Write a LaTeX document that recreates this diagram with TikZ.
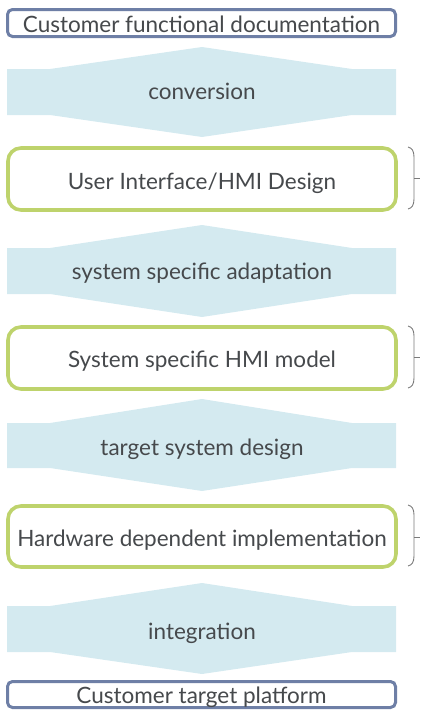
\documentclass[tikz,border=0pt]{standalone}
\usepackage{fontspec}
\setmainfont{Lato}
\definecolor{txt}{HTML}{46494C}
\definecolor{arrowfill}{HTML}{D4EAF0}
\definecolor{bluebd}{HTML}{6E7FA6}
\definecolor{greenbd}{HTML}{BED36C}
\definecolor{bracegray}{HTML}{7A7A7A}
\tikzset{
  lbl/.style={text=txt, font=\fontsize{22.5}{27}\selectfont, inner sep=0pt, anchor=base},
  bluebox/.style={draw=bluebd, line width=3pt, rounded corners=5pt, fill=white},
  greenbox/.style={draw=greenbd, line width=3.6pt, rounded corners=13pt, fill=white},
  flow/.style={fill=arrowfill, draw=none},
  bracket/.style={draw=bracegray, line width=0.9pt}
}
\newcommand{\flowshape}[4]{% #1 peak, #2 top shoulder, #3 bottom shoulder, #4 bottom point
  \fill[flow] (7,#2) -- (50,#2) -- (202,#1) -- (352,#2) -- (396,#2) -- (396,#3) -- (352,#3) -- (202,#4) -- (50,#3) -- (7,#3) -- cycle;}
\newcommand{\sidebrace}[3]{% #1 top, #2 middle, #3 bottom
  \draw[bracket] (408,#1) .. controls (412,#1+1) and (414,#1+4) .. (414,#1+10) -- (414,#3-10) .. controls (414,#3-4) and (412,#3-1) .. (408,#3);
  \draw[bracket] (414,#2) -- (420,#2);}
\begin{document}
\begin{tikzpicture}[x=1pt,y=-1pt]
\useasboundingbox (0,0) rectangle (425,720);
% top box
\draw[bluebox] (7.5,9.5) rectangle (395.5,36.5);
\node[lbl] (cfd) at (201.5,32) {Customer functional documentation};
% arrow 1
\flowshape{47}{69}{115}{137}
\node[lbl] (conv) at (202,99) {conversion};
% green box 1
\draw[greenbox] (8,148) rectangle (396,210);
\node[lbl] (ui) at (202,189) {User Interface/HMI Design};
\sidebrace{147}{178}{209}
% arrow 2
\flowshape{225}{248}{294}{317}
\node[lbl] (ssa) at (202,279) {system specific adaptation};
% green box 2
\draw[greenbox] (8,327) rectangle (396,389);
\node[lbl] (shm) at (202,367) {System specific HMI model};
\sidebrace{326}{357}{388}
% arrow 3
\flowshape{399}{423}{468}{491}
\node[lbl] (tsd) at (202,455) {target system design};
% green box 3
\draw[greenbox] (8,506) rectangle (396,567);
\node[lbl] (hdi) at (202,546) {Hardware dependent implementation};
\sidebrace{505}{537}{566}
% arrow 4
\flowshape{583}{606}{652}{674}
\node[lbl] (integ) at (202,639) {integration};
% bottom box
\draw[bluebox] (7.5,681.5) rectangle (395.5,707.5);
\node[lbl] (ctp) at (201.5,703) {Customer target platform};
\end{tikzpicture}
\end{document}
